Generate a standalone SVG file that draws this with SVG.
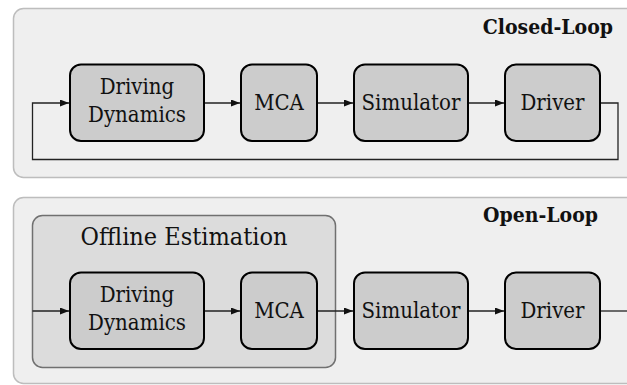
<svg xmlns="http://www.w3.org/2000/svg" width="627" height="385" viewBox="0 0 627 385">
<style>
.panel{fill:#efefef;stroke:#bdbdbd;stroke-width:1.5}
.group{fill:#dcdcdc;stroke:#707070;stroke-width:1.5}
.node{fill:#cccccc;stroke:#000;stroke-width:2}
text{font-family:"DejaVu Serif Condensed","DejaVu Serif",serif;font-stretch:condensed;fill:#111}
.lbl{font-size:22px;text-anchor:middle}
.title{font-size:21px;font-weight:bold;text-anchor:end}
.gtitle{font-size:25px;text-anchor:middle}
.conn{fill:none;stroke:#222;stroke-width:1.3}
</style>
<defs>
<marker id="ah" markerWidth="9" markerHeight="7" refX="9" refY="3.5" orient="auto" markerUnits="userSpaceOnUse">
<path d="M0,0 L9,3.5 L0,7 Z" fill="#111"/>
</marker>
</defs>
<g id="closed-loop-panel">
<rect class="panel" x="13.5" y="8.5" width="640" height="169" rx="10"/>
<text class="title" x="613" y="34">Closed-Loop</text>
</g>
<g id="open-loop-panel">
<rect class="panel" x="13.5" y="197.5" width="640" height="186" rx="10"/>
<text class="title" x="598" y="222">Open-Loop</text>
</g>
<g id="offline-estimation">
<rect class="group" x="32.5" y="215.5" width="303" height="152" rx="10"/>
<text class="gtitle" x="184" y="245">Offline Estimation</text>
</g>
<g id="connectors">
<path class="conn" d="M204,103 H240" marker-end="url(#ah)"/>
<path class="conn" d="M317,103 H353" marker-end="url(#ah)"/>
<path class="conn" d="M468,103 H504" marker-end="url(#ah)"/>
<path class="conn" d="M600,103 H618 V159.5 H32.5 V103 H69" marker-end="url(#ah)"/>
<path class="conn" d="M32.5,311 H69" marker-end="url(#ah)"/>
<path class="conn" d="M204,311 H240" marker-end="url(#ah)"/>
<path class="conn" d="M317,311 H353" marker-end="url(#ah)"/>
<path class="conn" d="M468,311 H504" marker-end="url(#ah)"/>
<path class="conn" d="M600,311 H627"/>
</g>
<g id="cl-driving-dynamics">
<rect class="node" x="70" y="64.5" width="134" height="76.5" rx="11"/>
<text class="lbl" x="137" y="93.5">Driving</text>
<text class="lbl" x="137" y="121.5">Dynamics</text>
</g>
<g id="cl-mca">
<rect class="node" x="241" y="64.5" width="76" height="76.5" rx="11"/>
<text class="lbl" x="279" y="110">MCA</text>
</g>
<g id="cl-simulator">
<rect class="node" x="354" y="64.5" width="114" height="76.5" rx="11"/>
<text class="lbl" x="411" y="110">Simulator</text>
</g>
<g id="cl-driver">
<rect class="node" x="505" y="64.5" width="95" height="76.5" rx="11"/>
<text class="lbl" x="552.5" y="110">Driver</text>
</g>
<g id="ol-driving-dynamics">
<rect class="node" x="70" y="272.5" width="134" height="76.5" rx="11"/>
<text class="lbl" x="137" y="301.5">Driving</text>
<text class="lbl" x="137" y="329.5">Dynamics</text>
</g>
<g id="ol-mca">
<rect class="node" x="241" y="272.5" width="76" height="76.5" rx="11"/>
<text class="lbl" x="279" y="318">MCA</text>
</g>
<g id="ol-simulator">
<rect class="node" x="354" y="272.5" width="114" height="76.5" rx="11"/>
<text class="lbl" x="411" y="318">Simulator</text>
</g>
<g id="ol-driver">
<rect class="node" x="505" y="272.5" width="95" height="76.5" rx="11"/>
<text class="lbl" x="552.5" y="318">Driver</text>
</g>
</svg>
